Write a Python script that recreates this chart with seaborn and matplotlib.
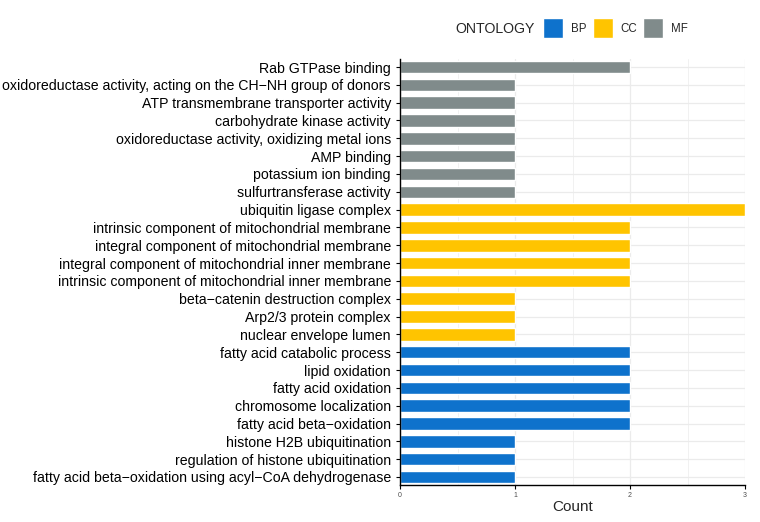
import pandas as pd
import numpy as np
import matplotlib
matplotlib.use("Agg")
import matplotlib.pyplot as plt
import seaborn as sns

# GO terms, top to bottom as shown
terms = [
    "Rab GTPase binding",
    "oxidoreductase activity, acting on the CH\u2212NH group of donors",
    "ATP transmembrane transporter activity",
    "carbohydrate kinase activity",
    "oxidoreductase activity, oxidizing metal ions",
    "AMP binding",
    "potassium ion binding",
    "sulfurtransferase activity",
    "ubiquitin ligase complex",
    "intrinsic component of mitochondrial membrane",
    "integral component of mitochondrial membrane",
    "integral component of mitochondrial inner membrane",
    "intrinsic component of mitochondrial inner membrane",
    "beta\u2212catenin destruction complex",
    "Arp2/3 protein complex",
    "nuclear envelope lumen",
    "fatty acid catabolic process",
    "lipid oxidation",
    "fatty acid oxidation",
    "chromosome localization",
    "fatty acid beta\u2212oxidation",
    "histone H2B ubiquitination",
    "regulation of histone ubiquitination",
    "fatty acid beta\u2212oxidation using acyl\u2212CoA dehydrogenase",
]
counts = [2, 1, 1, 1, 1, 1, 1, 1,
          3, 2, 2, 2, 2, 1, 1, 1,
          2, 2, 2, 2, 2, 1, 1, 1]
ontology = ["MF"] * 8 + ["CC"] * 8 + ["BP"] * 8

palette = {"BP": "#0E72CC", "CC": "#FFC400", "MF": "#808B8B"}

df = pd.DataFrame({"term": terms, "Count": counts, "ONTOLOGY": ontology})

sns.set_style("white")
plt.rcParams['font.family'] = ['Liberation Sans', 'DejaVu Sans']

fig = plt.figure(figsize=(7.6, 5.22), dpi=100)
ax = fig.add_axes([400/760, 1-485/522, 345/760, 426/522])

sns.barplot(data=df, x="Count", y="term", hue="ONTOLOGY",
            hue_order=["BP", "CC", "MF"], palette=palette,
            order=terms, dodge=False, width=0.7, saturation=1,
            orient="h", ax=ax, zorder=2)

ax.set_xlim(0, 3)
ax.set_ylim(len(terms) - 1 + 0.45, -0.45)
ax.set_xticks([0, 1, 2, 3])
ax.set_xticks([0.5, 1.5, 2.5], minor=True)
ax.grid(True, which="major", color="#EBEBEB", lw=0.9, zorder=0)
ax.grid(True, which="minor", axis="x", color="#EBEBEB", lw=0.5, zorder=0)
ax.set_axisbelow(True)

for s in ["top", "right"]:
    ax.spines[s].set_visible(False)
for s in ["left", "bottom"]:
    ax.spines[s].set_color("black")
    ax.spines[s].set_linewidth(1.0)

ax.tick_params(axis="y", which="major", length=3, width=0.8, color="black",
               labelsize=10.15, labelcolor="black", left=True, pad=3.5)
ax.tick_params(axis="x", which="major", length=3, width=0.8, color="black",
               labelsize=5, labelcolor="#4D4D4D", bottom=True, pad=2)
ax.tick_params(axis="x", which="minor", length=0)

ax.set_ylabel("")
ax.set_xlabel("Count", fontsize=11, labelpad=1)

handles, labels = ax.get_legend_handles_labels()
ax.get_legend().remove()
fig.text(455/760, 1-29/522, "ONTOLOGY", fontsize=10.2, va="center", ha="left")
fig.legend(handles, labels, ncol=3, loc="center left",
           bbox_to_anchor=(543/760, 1-28/522), frameon=False,
           fontsize=8.3, handlelength=1.75, handleheight=2.3,
           handletextpad=0.65, columnspacing=0.55, borderaxespad=0,
           borderpad=0)

fig.savefig("out.png", dpi=100)
